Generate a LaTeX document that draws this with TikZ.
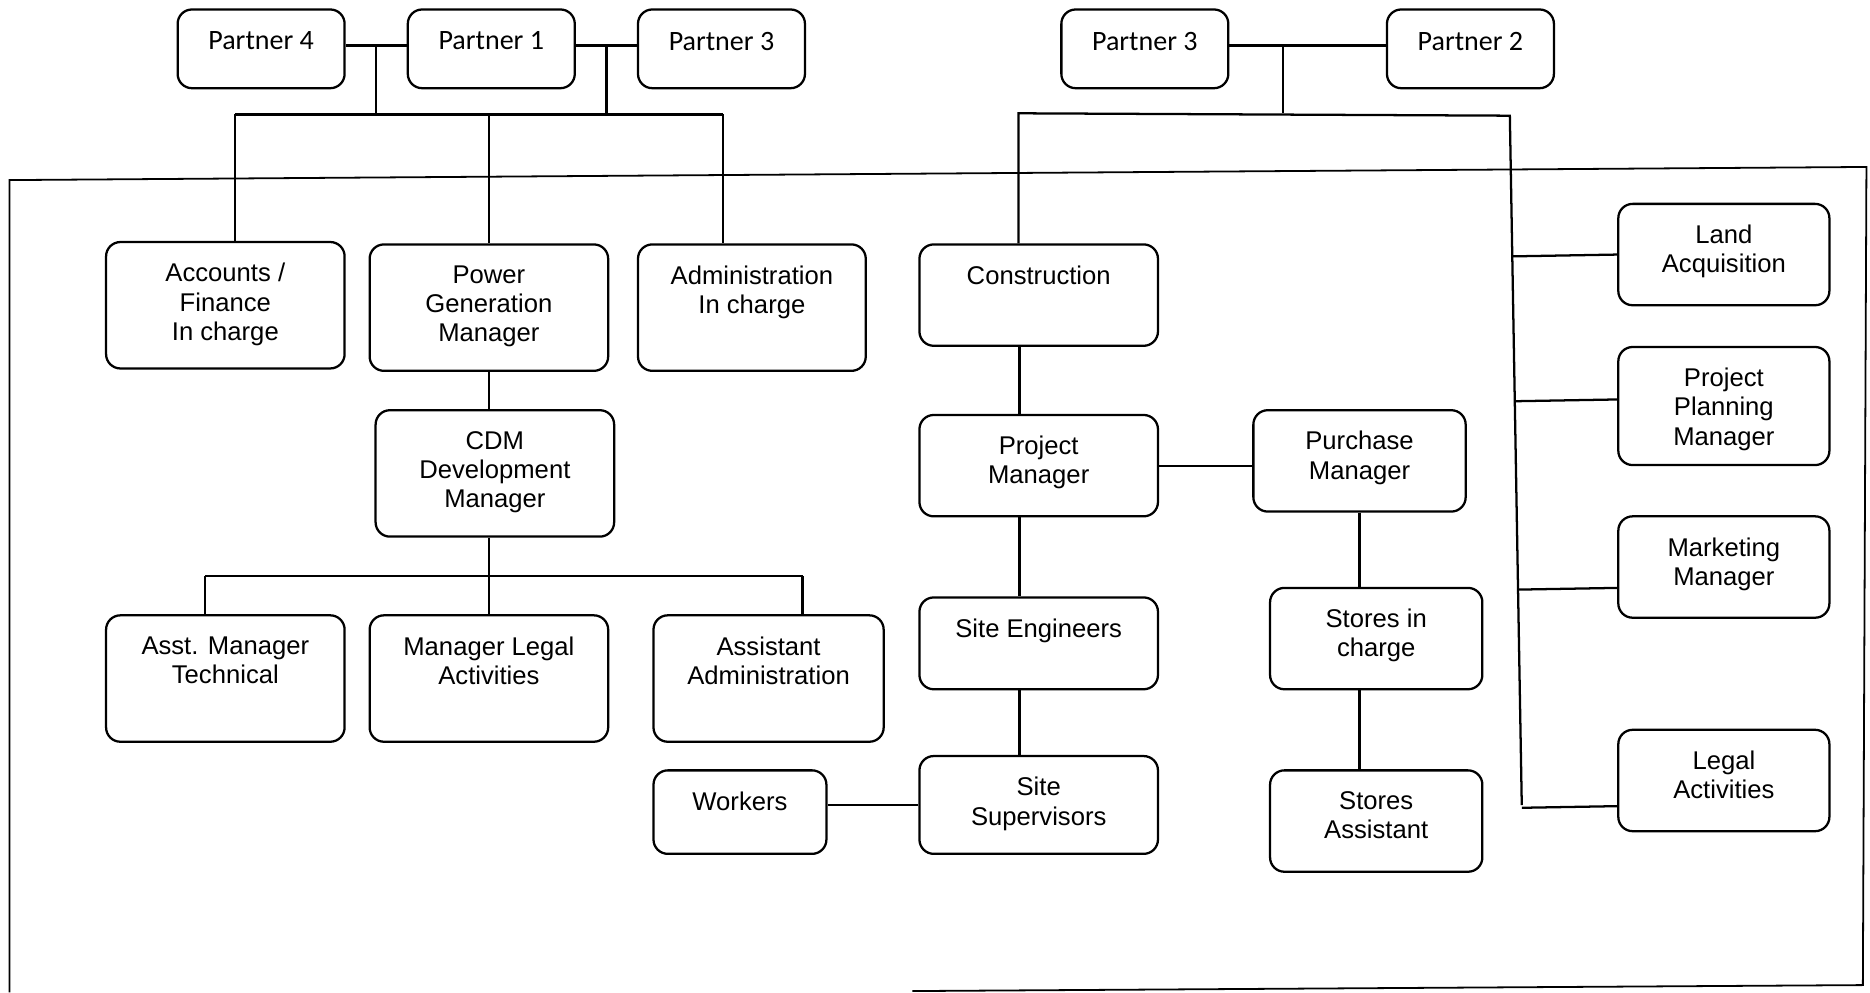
\documentclass[tikz,border=0pt]{standalone}
\usepackage{fontspec}
\setmainfont{Liberation Sans}
\newfontfamily\partnerfont{Carlito}
\usetikzlibrary{positioning, calc}

\tikzset{
  post/.style={draw, line width=1.9pt, rounded corners=12pt, anchor=north west, inner sep=0pt},
  caption/.style={anchor=north, yshift=-16.5pt, align=center, inner sep=2pt, font=\fontsize{21.5}{24.5}\selectfont},
  pcaption/.style={anchor=north, yshift=-17.5pt, align=center, inner sep=2pt, font=\partnerfont\fontsize{23.5}{26}\selectfont},
  link/.style={line width=1.9pt},
  bond/.style={line width=2.8pt},
  frame/.style={line width=1.5pt},
}

\begin{document}
\begin{tikzpicture}[x=1pt, y=-1pt]
    \useasboundingbox (0,0) rectangle (1568,832);
    % outer frame
    \draw[frame] (8,832) -- (8,151) -- (1565,140) -- (1562,826) -- (765,831);

    % partners
    \node[post, minimum width=140pt, minimum height=66pt, label={[pcaption]north:Partner 4}] (p4) at (148,7) {};
    \node[post, minimum width=140pt, minimum height=66pt, label={[pcaption]north:Partner 1}] (p1) at (341,7) {};
    \node[post, minimum width=140pt, minimum height=66pt, label={[pcaption]north:Partner 3}] (p3a) at (534,7) {};
    \node[post, minimum width=140pt, minimum height=66pt, label={[pcaption]north:Partner 3}] (p3b) at (889,7) {};
    \node[post, minimum width=140pt, minimum height=66pt, label={[pcaption]north:Partner 2}] (p2) at (1162,7) {};

    % first group
    \node[post, minimum width=200pt, minimum height=106pt, label={[caption]north:{Accounts /\\Finance\\In charge}}] (acc) at (88,202) {};
    \node[post, minimum width=200pt, minimum height=106pt, label={[caption]north:{Power\\Generation\\Manager}}] (pg) at (309,204) {};
    \node[post, minimum width=191pt, minimum height=106pt, label={[caption]north:{Administration\\In charge}}] (adm) at (534,204) {};
    \node[post, minimum width=200pt, minimum height=106pt, label={[caption]north:{CDM\\Development\\Manager}}] (cdm) at (314,343) {};
    \node[post, minimum width=200pt, minimum height=106pt, label={[caption]north:{Asst. Manager\\Technical}}] (amt) at (88,515) {};
    \node[post, minimum width=200pt, minimum height=106pt, label={[caption]north:{Manager Legal\\Activities}}] (mla) at (309,515) {};
    \node[post, minimum width=193pt, minimum height=106pt, label={[caption]north:{Assistant\\Administration}}] (aad) at (547,515) {};

    % second group
    \node[post, minimum width=200pt, minimum height=85pt, label={[caption]north:Construction}] (con) at (770,204) {};
    \node[post, minimum width=200pt, minimum height=85pt, label={[caption]north:{Project\\Manager}}] (pm) at (770,347) {};
    \node[post, minimum width=200pt, minimum height=77pt, label={[caption]north:Site Engineers}] (se) at (770,500) {};
    \node[post, minimum width=200pt, minimum height=82pt, label={[caption]north:{Site\\Supervisors}}] (ss) at (770,633) {};
    \node[post, minimum width=145pt, minimum height=70pt, label={[caption]north:Workers}] (wrk) at (547,645) {};
    \node[post, minimum width=178pt, minimum height=85pt, label={[caption]north:{Purchase\\Manager}}] (pur) at (1050,343) {};
    \node[post, minimum width=178pt, minimum height=85pt, label={[caption]north:{Stores in\\charge}}] (sic) at (1064,492) {};
    \node[post, minimum width=178pt, minimum height=85pt, label={[caption]north:{Stores\\Assistant}}] (sa) at (1064,645) {};
    \node[post, minimum width=177pt, minimum height=85pt, label={[caption]north:{Land\\Acquisition}}] (land) at (1356,170) {};
    \node[post, minimum width=177pt, minimum height=99pt, label={[caption]north:{Project\\Planning\\Manager}}] (ppm) at (1356,290) {};
    \node[post, minimum width=177pt, minimum height=85pt, label={[caption]north:{Marketing\\Manager}}] (mkt) at (1356,432) {};
    \node[post, minimum width=177pt, minimum height=85pt, label={[caption]north:{Legal\\Activities}}] (leg) at (1356,611) {};

    % partners, left side
    \draw[bond] ([yshift=3pt]p4.east) -- ([yshift=3pt]p1.west);
    \draw[bond] ([yshift=3pt]p1.east) -- ([yshift=3pt]p3a.west);
    \coordinate (j41) at ($(p4.east)!.5!(p1.west)+(0,-3)$);
    \coordinate (j13) at ($(p1.east)!.5!(p3a.west)+(0,-3)$);
    \coordinate (busA) at (197,96);
    \coordinate (busB) at (606,96);
    \draw[link] (j41) -- (j41 |- busA);
    \draw[link] (j13) -- (j13 |- busA);
    \draw[link] (busA) -- (busB);
    \draw[link] (busA) -- (busA |- acc.north);
    \draw[link] (busA -| pg.north) -- (pg.north);
    \draw[link] (busB) -- (busB |- adm.north);

    % power generation branch
    \draw[link] (pg.south) -- (pg.south |- cdm.north);
    \coordinate (busE) at (172,483);
    \coordinate (busF) at (673,483);
    \draw[link] (pg.south |- cdm.south) -- (pg.south |- busE);
    \draw[link] (busE) -- (busF);
    \draw[link] (busE) -- (busE |- amt.north);
    \draw[link] (busE -| mla.north) -- (mla.north);
    \draw[link] (busF) -- (busF |- aad.north);

    % partners, right side
    \draw[bond] ([yshift=3pt]p3b.east) -- ([yshift=3pt]p2.west);
    \coordinate (j32) at (1076,37);
    \coordinate (busC) at (854,95);
    \coordinate (busD) at (1266,97);
    \coordinate (spineEnd) at (1276,675);
    \draw[link] (j32) -- (j32 |- busC);
    \draw[link] (busC |- con.north) -- (busC) -- (busD) -- (spineEnd);
    \foreach \b/\s in {land/0, ppm/5.5, mkt/-17.5, leg/-21.5} {
        \coordinate (tip) at ([yshift=\s pt]\b.west);
        \draw[link] ($(busD)!(tip)!(spineEnd)$) -- (tip);
    }

    % construction branch
    \foreach \a/\b in {con/pm, pm/se, se/ss}
        \draw[link] ([xshift=-16pt]\a.south) -- ([xshift=-16pt]\b.north);
    \draw[link] (ss.west -| wrk.east) -- (ss.west);
    \draw[link] (pm.east) -- (pm.east -| pur.west);
    \draw[link] (pur.south) -- (pur.south |- sic.north);
    \draw[link] (pur.south |- sic.south) -- (pur.south |- sa.north);
\end{tikzpicture}
\end{document}
